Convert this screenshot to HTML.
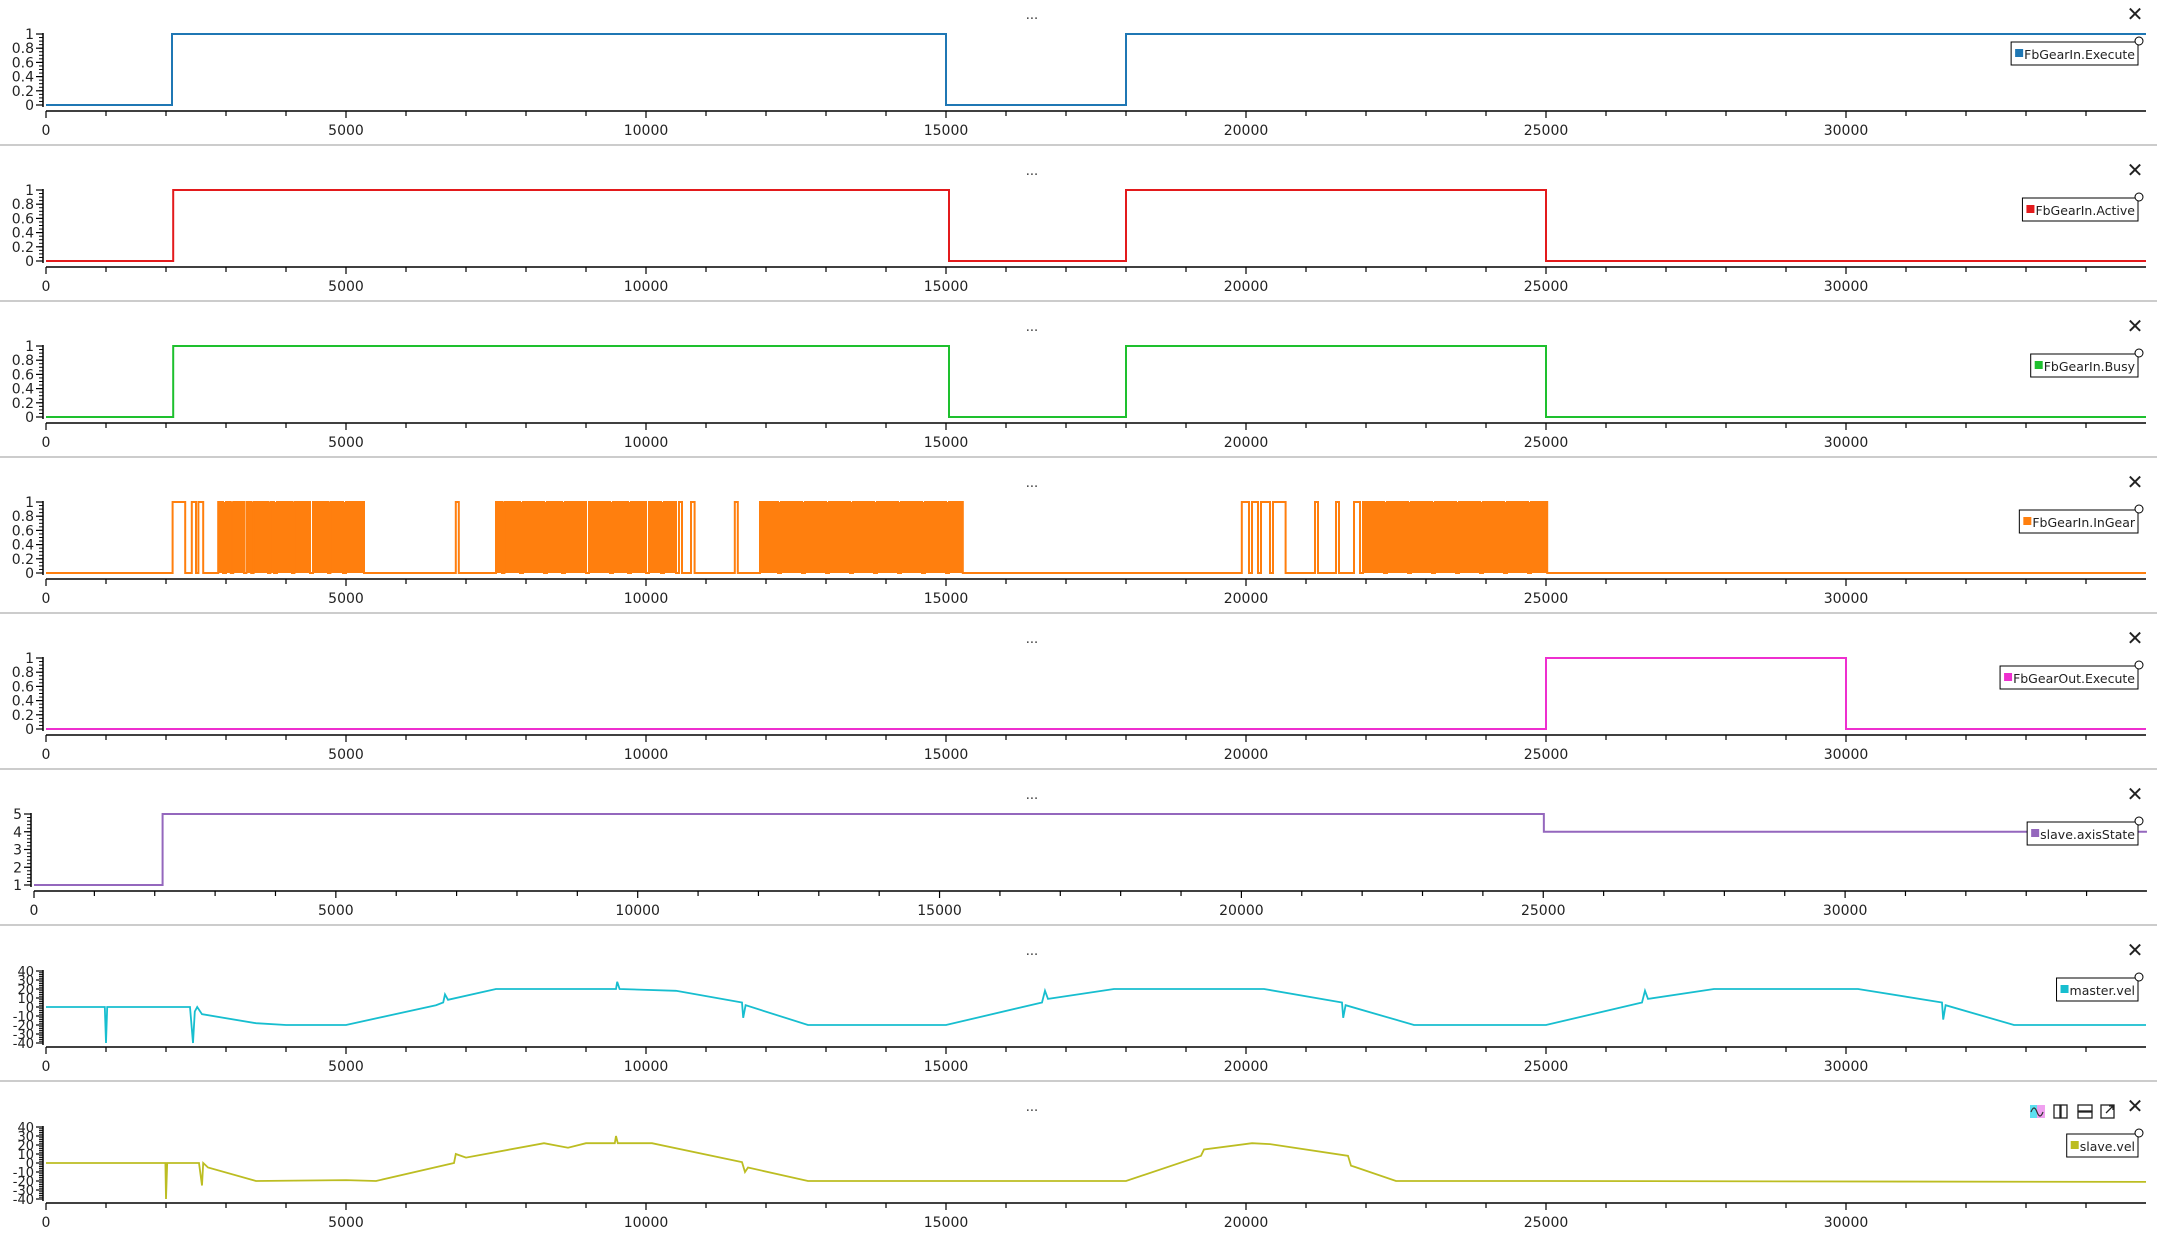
<!DOCTYPE html>
<html><head><meta charset="utf-8">
<style>
html,body{margin:0;padding:0;background:#fff;}
body{width:2157px;height:1238px;overflow:hidden;font-family:"Liberation Sans","DejaVu Sans",sans-serif;}
svg text{font-family:"DejaVu Sans","Liberation Sans",sans-serif;}
</style></head>
<body>
<svg id="root" width="2157" height="1238" xmlns="http://www.w3.org/2000/svg"></svg>
<script>
// ---- data ----
const execSteps = [[0,0],[2100,1],[15000,0],[18000,1]];
const activeSteps = [[0,0],[2120,1],[15050,0],[18000,1],[25000,0]];
const busySteps = [[0,0],[2120,1],[15050,0],[18000,1],[25000,0]];
const inGearOn = [[2110,2320],[2430,2500],[2540,2620],[2870,2950],[3000,3080],[3120,3300],[3340,3420],[3460,3700],[3740,3800],[3850,4100],[4140,4400],[4450,4700],[4740,4950],[5000,5300],[6830,6880],[7500,7600],[7640,7900],[7950,8300],[8350,8600],[8650,9000],[9050,9400],[9450,9700],[9750,10000],[10050,10250],[10300,10500],[10550,10600],[10750,10810],[11480,11530],[11900,12200],[12250,12600],[12650,13000],[13050,13400],[13450,13800],[13850,14200],[14250,14600],[14650,15000],[15050,15280],[19930,20050],[20100,20200],[20250,20400],[20450,20660],[21150,21200],[21500,21550],[21800,21900],[21950,22300],[22350,22700],[22750,23100],[23150,23500],[23550,23900],[23950,24300],[24350,24700],[24750,25020]];
// ranges where InGear toggles so rapidly it appears solid
const inGearBursts = [[2870,3300],[3340,4400],[4450,5300],[7500,9000],[9050,10000],[10050,10500],[11900,15280],[21950,25020]];
const outExecSteps = [[0,0],[25000,1],[30000,0]];
const axisStateSteps = [[0,1],[2130,5],[25010,4]];
const masterT = [0,980,1000,1020,2400,2450,2480,2520,2600,3500,4000,5000,6500,6620,6650,6700,7500,9500,9520,9560,10500,11600,11620,11660,12700,15000,16600,16650,16700,17800,20300,21600,21620,21660,22800,25000,26600,26650,26700,27800,30200,31600,31620,31660,32800,35000];
const masterV = [0,0,-40,0,0,-40,-5,0,-8,-18,-20,-20,2,5,14,8,20,20,28,20,18,5,-12,2,-20,-20,5,18,9,20,20,5,-12,2,-20,-20,5,18,9,20,20,5,-14,2,-20,-20];
const slaveT = [0,1990,2000,2020,2550,2600,2620,2700,3500,5000,5500,6800,6830,7000,8300,8700,9000,9480,9500,9530,10100,11600,11650,11700,12700,15000,18000,19250,19300,20100,20400,21700,21750,21800,22500,25000,35000];
const slaveV = [0,0,-40,0,0,-25,0,-5,-20,-19,-20,0,10,6,22,17,22,22,30,22,22,1,-10,-5,-20,-20,-20,8,15,22,21,8,-3,-4,-20,-20,-21];
const xTickLabels = ["0","5000","10000","15000","20000","25000","30000"];
// ---- layout ----
const svg = document.getElementById('root');
const NS = 'http://www.w3.org/2000/svg';
function mk(tag, attrs, parent){const e=document.createElementNS(NS,tag);for(const k in attrs)e.setAttribute(k,attrs[k]);(parent||svg).appendChild(e);return e;}
const panels = [
 {name:'fbgearin-execute', label:'FbGearIn.Execute', color:'#1f77b4', kind:'step', data:execSteps, ymin:0,ymax:1, ticks:[0,0.2,0.4,0.6,0.8,1], minor:0.05, x0:46, x1px:346},
 {name:'fbgearin-active', label:'FbGearIn.Active', color:'#e31a1c', kind:'step', data:activeSteps, ymin:0,ymax:1, ticks:[0,0.2,0.4,0.6,0.8,1], minor:0.05, x0:46, x1px:346},
 {name:'fbgearin-busy', label:'FbGearIn.Busy', color:'#1ec02e', kind:'step', data:busySteps, ymin:0,ymax:1, ticks:[0,0.2,0.4,0.6,0.8,1], minor:0.05, x0:46, x1px:346},
 {name:'fbgearin-ingear', label:'FbGearIn.InGear', color:'#ff7f0e', kind:'on', data:inGearOn, bursts:inGearBursts, ymin:0,ymax:1, ticks:[0,0.2,0.4,0.6,0.8,1], minor:0.05, x0:46, x1px:346},
 {name:'fbgearout-execute', label:'FbGearOut.Execute', color:'#ee2fcf', kind:'step', data:outExecSteps, ymin:0,ymax:1, ticks:[0,0.2,0.4,0.6,0.8,1], minor:0.05, x0:46, x1px:346},
 {name:'slave-axisstate', label:'slave.axisState', color:'#9467bd', kind:'step', data:axisStateSteps, ymin:1,ymax:5, ticks:[1,2,3,4,5], minor:0.2, x0:34, x1px:335.85},
 {name:'master-vel', label:'master.vel', color:'#17becf', kind:'line', t:masterT, v:masterV, ymin:-40,ymax:40, ticks:[-40,-30,-20,-10,0,10,20,30,40], minor:2, x0:46, x1px:346},
 {name:'slave-vel', label:'slave.vel', color:'#bcbd22', kind:'line', t:slaveT, v:slaveV, ymin:-40,ymax:40, ticks:[-40,-30,-20,-10,0,10,20,30,40], minor:2, x0:46, x1px:346}
];
const XMAX = 35000;
panels.forEach((p,i)=>{
  const top = i*156;
  const g = mk('g',{transform:`translate(0,${top})`});
  
  
  const sx = (p.x1px - p.x0)/5000;
  const X = u => p.x0 + u*sx;
  const yTop = p.kind==='line'?35:34, yBot = p.kind==='line'?107:105;
  const Y = v => yBot - (v-p.ymin)/(p.ymax-p.ymin)*(yBot-yTop);
  const xEnd = X(XMAX);
  const yAxX = p.x0-3;
  const dots = mk('text',{x:1032,y:19,'font-size':13,fill:'#333','text-anchor':'middle'},g);
  dots.textContent='...';
  
  
  const cl = mk('text',{x:2135,y:21,'font-size':20,fill:'#222','text-anchor':'middle'},g);
  cl.textContent='✕';
  
  
  const ya = mk('g',{},g);
  
  
  mk('line',{x1:yAxX,y1:yTop-1,x2:yAxX,y2:yBot+2,stroke:'#000','stroke-width':1.5},ya);
  for(let v=p.ymin; v<=p.ymax+1e-9; v+=p.minor){
    const y=Y(v);
    mk('line',{x1:yAxX-4,y1:y,x2:yAxX,y2:y,stroke:'#000','stroke-width':1},ya);
  }
  p.ticks.forEach(v=>{
    const y=Y(v);
    mk('line',{x1:yAxX-7,y1:y,x2:yAxX,y2:y,stroke:'#000','stroke-width':1.2},ya);
    const t=mk('text',{x:yAxX-9,y:y+5,'font-size':p.kind==='line'?13:14,fill:'#222','text-anchor':'end'},ya);
    t.textContent = String(v);
    
    
  });
  const xa = mk('g',{},g);
  
  
  mk('line',{x1:p.x0,y1:111,x2:xEnd,y2:111,stroke:'#000','stroke-width':1.5},xa);
  for(let u=0; u<XMAX; u+=1000){
    mk('line',{x1:X(u),y1:111,x2:X(u),y2:u%5000===0?118:116,stroke:'#000','stroke-width':1.2},xa);
  }
  xTickLabels.forEach(s=>{
    const t=mk('text',{x:X(+s),y:135,'font-size':14,fill:'#222','text-anchor':'middle'},xa);
    t.textContent=s;
    
    
  });
  let d='';
  if(p.kind==='step'){
    p.data.forEach((s,k)=>{
      const xs=X(s[0]);
      if(k===0) d+=`M${xs},${Y(s[1])}`; else d+=`H${xs}V${Y(s[1])}`;
    });
    d+=`H${xEnd}`;
  } else if(p.kind==='on'){
    d=`M${X(0)},${Y(0)}`;
    p.data.forEach(s=>{ d+=`H${X(s[0])}V${Y(1)}H${X(s[1])}V${Y(0)}`; });
    d+=`H${xEnd}`;
    p.bursts.forEach(b=>{
      const r = mk('rect',{x:X(b[0]),y:Y(1),width:X(b[1])-X(b[0]),height:Y(0)-Y(1),fill:p.color},g);
      
      
    });
  } else {
    p.t.forEach((u,k)=>{ d+=(k?'L':'M')+X(u)+','+Y(p.v[k]); });
  }
  const path = mk('path',{d:d,fill:'none',stroke:p.color,'stroke-width':p.kind==='line'?1.8:2,'stroke-linejoin':'miter'},g);
  
  
  const lg = mk('g',{},g);
  
  
  const lt = mk('text',{x:0,y:59,'font-size':12.5,fill:'#222'},lg);
  lt.textContent = p.label;
  const w = lt.getComputedTextLength();
  const bx = 2138 - (w+16);
  lt.setAttribute('x', bx+13);
  mk('rect',{x:bx,y:42,width:w+16,height:23,fill:'#fff',stroke:'#000','stroke-width':1},lg);
  lg.appendChild(lt);
  mk('rect',{x:bx+4,y:49,width:8,height:8,fill:p.color},lg);
  mk('circle',{cx:2139,cy:41,r:4,fill:'#fff',stroke:'#000','stroke-width':1},lg);
  if(i<7) mk('line',{x1:0,y1:145,x2:2157,y2:145,stroke:'#bbb','stroke-width':1.5},g);
  if(i===7){
    const tb = mk('g',{},g);
    
    
    mk('rect',{x:2030,y:13,width:7,height:13,fill:'#5de0f0'},tb);
    mk('rect',{x:2037,y:13,width:8,height:13,fill:'#f0a0f0'},tb);
    mk('path',{d:'M2031,20 q3,-8 6,0 t6,0',fill:'none',stroke:'#333','stroke-width':1.2},tb);
    mk('rect',{x:2054,y:13,width:6,height:13,fill:'none',stroke:'#222','stroke-width':1.3},tb);
    mk('rect',{x:2061,y:13,width:6,height:13,fill:'none',stroke:'#222','stroke-width':1.3},tb);
    mk('rect',{x:2078,y:13,width:14,height:6,fill:'none',stroke:'#222','stroke-width':1.3},tb);
    mk('rect',{x:2078,y:20,width:14,height:6,fill:'none',stroke:'#222','stroke-width':1.3},tb);
    mk('rect',{x:2101,y:13,width:13,height:13,fill:'none',stroke:'#222','stroke-width':1.3},tb);
    mk('path',{d:'M2106,21 L2113,14 M2109,14 H2113 V18',fill:'none',stroke:'#222','stroke-width':1.3},tb);
  }
});
</script>
</body></html>
